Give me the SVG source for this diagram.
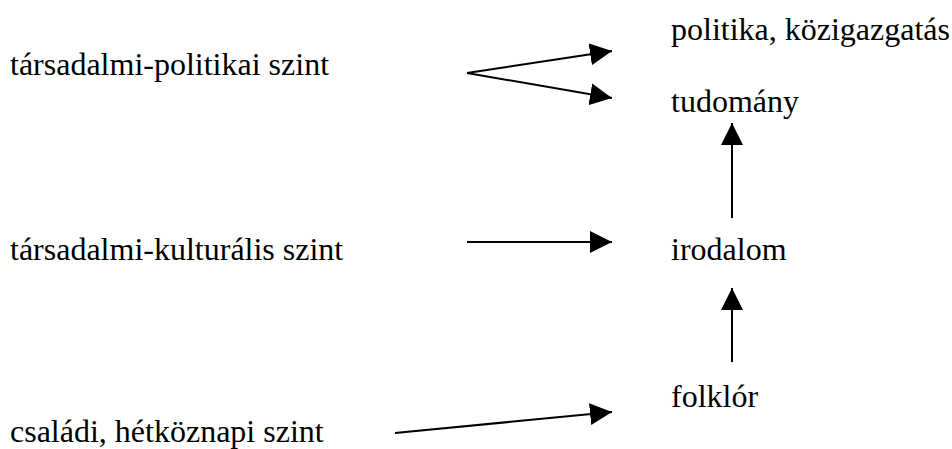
<svg xmlns="http://www.w3.org/2000/svg" width="952" height="449" viewBox="0 0 952 449">
<defs>
<marker id="ah" markerUnits="userSpaceOnUse" markerWidth="22" markerHeight="22" viewBox="0 0 20 20" refX="20" refY="10" orient="auto">
<path d="M0,0 L20,10 L0,20 Z" fill="#000"/>
</marker>
</defs>
<style>
.t{font-family:"Liberation Serif","Times New Roman",serif;font-size:32px;fill:#000}
.c{stroke:#000;stroke-width:2;fill:none}
</style>
<rect width="952" height="449" fill="#fff"/>
<g id="n_tp"><text class="t" x="10" y="75">társadalmi-politikai szint</text></g>
<g id="n_tk"><text class="t" x="10" y="260">társadalmi-kulturális szint</text></g>
<g id="n_cs"><text class="t" x="10" y="442">családi, hétköznapi szint</text></g>
<g id="n_pol"><text class="t" x="671" y="40">politika, közigazgatás</text></g>
<g id="n_tud"><text class="t" x="671" y="112">tudomány</text></g>
<g id="n_iro"><text class="t" x="671" y="260">irodalom</text></g>
<g id="n_fol"><text class="t" x="671" y="407">folklór</text></g>
<g id="connectors">
<path class="c" d="M467,73 L612,51" marker-end="url(#ah)"/>
<path class="c" d="M467,73 L612,98" marker-end="url(#ah)"/>
<path class="c" d="M467,242 L612,242" marker-end="url(#ah)"/>
<path class="c" d="M395,433 L612,412" marker-end="url(#ah)"/>
<path class="c" d="M732,218 L732,123" marker-end="url(#ah)"/>
<path class="c" d="M732,362 L732,288" marker-end="url(#ah)"/>
</g>
</svg>
